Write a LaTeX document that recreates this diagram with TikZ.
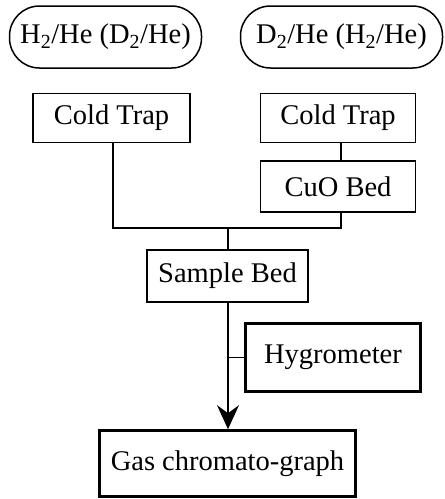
\documentclass[tikz,border=0pt]{standalone}
\usepackage{fontspec}
\setmainfont{Liberation Serif}
\usetikzlibrary{positioning}
\usetikzlibrary{arrows.meta}
\usetikzlibrary{calc}

\begin{document}
\begin{tikzpicture}[x=1pt,y=-1pt,
                font=\fontsize{28.5}{34}\selectfont,
                line width=1.5pt,
                srcbox/.style={draw, rounded corners=30pt, minimum width=192pt, minimum height=62pt, inner sep=0pt},
                unitbox/.style={draw, minimum width=155pt, minimum height=49pt, inner sep=0pt},
                outbox/.style={draw, line width=2.6pt, inner sep=0pt}]
                \useasboundingbox (0,0) rectangle (445,499);

                % Define the gas sources and the units
                \node[srcbox] (srcA) at (105.5,37) {H\textsubscript{2}/He (D\textsubscript{2}/He)};
                \node[srcbox, minimum width=202pt] (srcB) at (341.5,37) {D\textsubscript{2}/He (H\textsubscript{2}/He)};
                \node[unitbox, minimum width=157pt] (trapA) at (111.5,118) {Cold Trap};
                \node[unitbox] (trapB) at (338,118) {Cold Trap};
                \node[unitbox, minimum height=51pt] (cuo) at (338,186.5) {CuO Bed};
                \node[unitbox, minimum width=161pt, minimum height=52pt] (sample) at (227.5,276) {Sample Bed};
                \node[outbox, minimum width=175pt, minimum height=68pt] (hygro) at (333,357.5) {Hygrometer};
                \node[outbox, minimum width=256pt, minimum height=66pt] (gc) at (227.5,463.5) {Gas chromato-graph};
                \coordinate (join) at (228,228);

                \draw ($(trapA.north)+(1.5,0)$ |- srcA.south) -- ($(trapA.north)+(1.5,0)$);
                \draw ($(trapB.north)+(3,0)$ |- srcB.south) -- ($(trapB.north)+(3,0)$);
                \draw ($(trapB.south)+(3,0)$) -- ($(cuo.north)+(3,0)$);
                \draw ($(trapA.south)+(1.5,0)$) |- (join);
                \draw ($(cuo.south)+(3,0)$) |- (join);
                \draw (join) -- (join |- sample.north);
                \draw[-{Stealth[length=24pt,width=22pt,inset=8pt]}] (join |- sample.south) -- (join |- gc.north);
                \draw (join |- hygro.west) -- (hygro.west);

            \end{tikzpicture}
\end{document}
